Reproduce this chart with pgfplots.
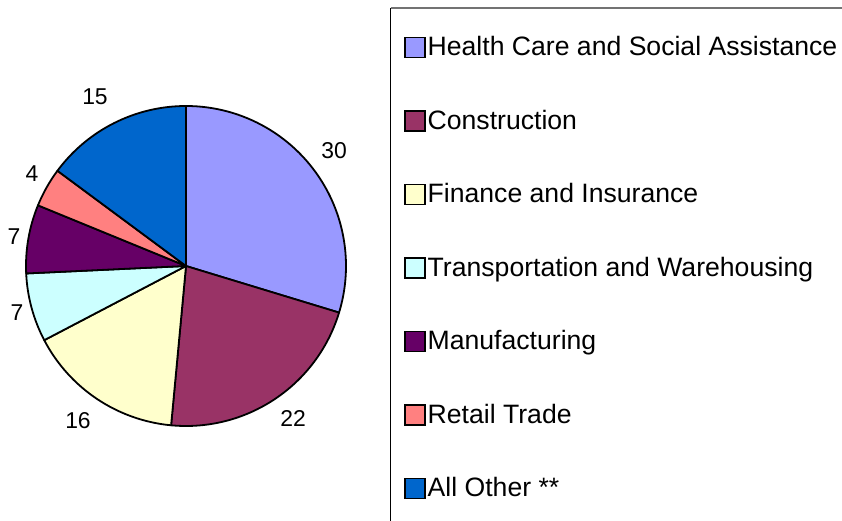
\documentclass[border=0pt]{standalone}
\usepackage{pgfplots}
\pgfplotsset{compat=1.18}
\usepackage{fontspec}
\setmainfont{Liberation Sans}
\definecolor{hc}{HTML}{9999FF}
\definecolor{co}{HTML}{993366}
\definecolor{fi}{HTML}{FFFFCC}
\definecolor{tr}{HTML}{CCFFFF}
\definecolor{ma}{HTML}{660066}
\definecolor{re}{HTML}{FF8080}
\definecolor{ao}{HTML}{0066CC}
\begin{document}
\begin{tikzpicture}
\begin{axis}[
  width=842bp, height=521bp, scale only axis,
  xmin=0, xmax=842, ymin=0, ymax=521,
  hide axis, clip=false]
% pie: values 30,22,16,7,7,4,15 (total 101), clockwise from 12 o'clock
\pgfplotsextra{
  \xdef\cum{0}
  \foreach \v/\c in {30/hc,22/co,16/fi,7/tr,7/ma,4/re,15/ao} {
    \pgfmathsetmacro\a{90-\cum/101*360}
    \pgfmathsetmacro\b{90-(\cum+\v)/101*360}
    \filldraw[fill=\c, draw=black, line width=1.8bp, line join=round]
      (axis cs:186,255) -- ++(\a:160bp) arc[start angle=\a, end angle=\b, radius=160bp] -- cycle;
    \pgfmathsetmacro\nc{\cum+\v}
    \xdef\cum{\nc}
  }
}
% value labels
\pgfplotsextra{
  \foreach \x/\y/\t in {334/151/30, 293/419/22, 78/421/16, 17/313/7, 14/237/7, 32/174/4, 95/97/15} {
    \pgfmathsetmacro\yy{521-\y}
    \node[inner sep=0pt, font=\fontsize{23}{26}\selectfont] at (axis cs:\x,\yy) {\t};
  }
}
% legend frame
\draw[gray!90!black, line width=1.5bp] (axis cs:390.5,513) -- (axis cs:842,513);
\draw[black, line width=1.3bp] (axis cs:390.5,513) -- (axis cs:390.5,0);
% legend entries
\pgfplotsextra{
  \foreach \i/\c/\t in {0/hc/Health Care and Social Assistance, 1/co/Construction, 2/fi/Finance and Insurance, 3/tr/Transportation and Warehousing, 4/ma/Manufacturing, 5/re/Retail Trade, 6/ao/All Other **} {
    \pgfmathsetmacro\cy{521-(46+73.5*\i)}
    \pgfmathsetmacro\ya{\cy-11.5}
    \pgfmathsetmacro\yb{\cy+8.5}
    \pgfmathsetmacro\yt{\cy-9.6}
    \filldraw[fill=\c, draw=black, line width=1.8bp] (axis cs:405,\ya) rectangle (axis cs:425,\yb);
    \node[anchor=base west, inner sep=0pt, font=\fontsize{26.7}{30}\selectfont] at (axis cs:427.5,\yt) {\t};
  }
}
\end{axis}
\pgfresetboundingbox
\path[use as bounding box] (current axis.south west) rectangle (current axis.north east);
\end{tikzpicture}
\end{document}
